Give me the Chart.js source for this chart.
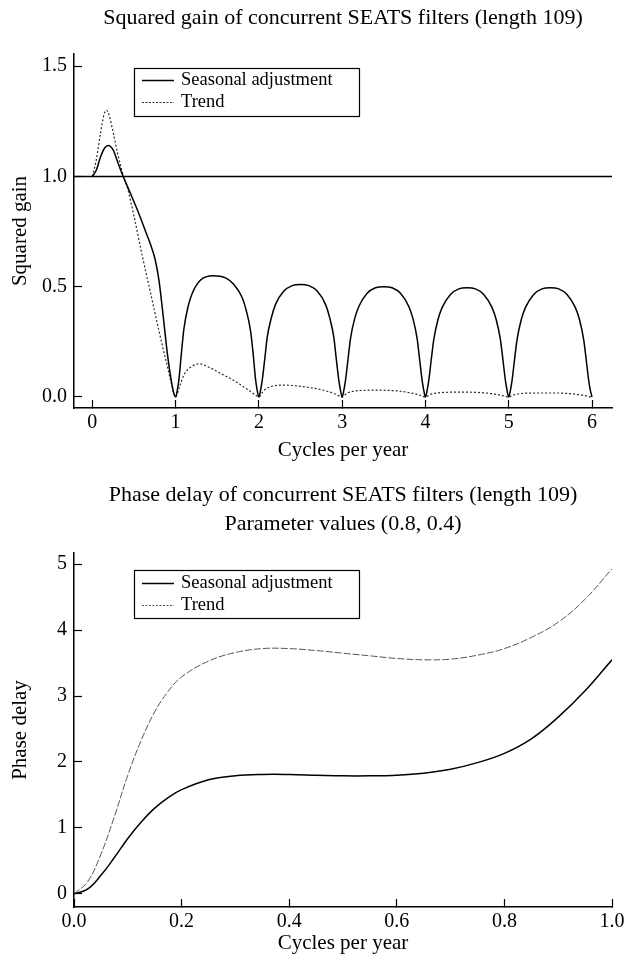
<!DOCTYPE html>
<html><head><meta charset="utf-8">
<script src="https://cdn.jsdelivr.net/npm/chart.js@4.4.1/dist/chart.umd.min.js"></script>
<style>
html,body{margin:0;padding:0;background:#fff;}
#w{position:relative;width:624px;height:963px;overflow:hidden;}
canvas{position:absolute;left:0;display:block;}
</style>
</head><body>
<div id="w">
<canvas id="c1" width="624" height="470" style="top:0"></canvas>
<canvas id="c2" width="624" height="493" style="top:470px"></canvas>
</div>
<script>
// ---------- Data: squared gain ----------
const gainTitle = 'Squared gain of concurrent SEATS filters (length 109)';
const gainSeriesNames = ['Seasonal adjustment', 'Trend'];
const gainXTicks = [0, 1, 2, 3, 4, 5, 6];
const gainYTicks = [0, 0.5, 1.0, 1.5];
const gainXRange = [-0.22, 6.24];
const gainYRange = [-0.05, 1.555];
const gainRefLevel = 1.0;

const gainSaX = [0,0.05,0.1,0.15,0.19,0.25,0.3,0.37,0.45,0.55,0.65,0.7,0.75,0.8,0.85,0.9,0.95,0.98,1,
  1.02,1.04,1.07,1.1,1.15,1.2,1.3,1.45,1.6,1.7,1.8,1.85,1.9,1.93,1.96,1.98,2,
  2.02,2.04,2.07,2.1,2.15,2.2,2.3,2.4,2.5,2.6,2.7,2.8,2.85,2.9,2.93,2.96,2.98,3,
  3.02,3.04,3.07,3.1,3.15,3.2,3.3,3.4,3.5,3.6,3.7,3.8,3.85,3.9,3.93,3.96,3.98,4,
  4.02,4.04,4.07,4.1,4.15,4.2,4.3,4.4,4.5,4.6,4.7,4.8,4.85,4.9,4.93,4.96,4.98,5,
  5.02,5.04,5.07,5.1,5.15,5.2,5.3,5.4,5.5,5.6,5.7,5.8,5.85,5.9,5.93,5.96,5.98,6];
const gainSaY = [1,1.03,1.09,1.13,1.14,1.12,1.07,1.0,0.93,0.84,0.74,0.69,0.63,0.53,0.37,0.2,0.07,0.015,0,
  0.03,0.08,0.2,0.31,0.41,0.47,0.53,0.55,0.54,0.51,0.45,0.39,0.3,0.2,0.08,0.03,0,
  0.03,0.075,0.17,0.27,0.36,0.42,0.48,0.505,0.51,0.505,0.48,0.42,0.36,0.27,0.17,0.075,0.03,0,
  0.03,0.075,0.17,0.265,0.355,0.41,0.47,0.495,0.50,0.495,0.47,0.41,0.355,0.265,0.17,0.075,0.03,0,
  0.03,0.075,0.17,0.26,0.35,0.405,0.465,0.49,0.495,0.49,0.465,0.405,0.35,0.26,0.17,0.075,0.03,0,
  0.03,0.075,0.17,0.26,0.35,0.405,0.465,0.49,0.495,0.49,0.465,0.405,0.35,0.26,0.17,0.075,0.03,0];

const gainTrX = [0,0.05,0.1,0.14,0.17,0.2,0.25,0.3,0.36,0.42,0.5,0.6,0.7,0.8,0.9,0.95,1,
  1.05,1.1,1.2,1.29,1.4,1.5,1.6,1.7,1.8,1.9,1.96,2,
  2.05,2.1,2.2,2.3,2.4,2.5,2.6,2.7,2.8,2.9,2.96,3,
  3.05,3.1,3.2,3.4,3.6,3.7,3.8,3.9,3.96,4,
  4.05,4.1,4.2,4.4,4.6,4.7,4.8,4.9,4.96,5,
  5.05,5.1,5.2,5.4,5.6,5.7,5.8,5.9,5.96,6];
const gainTrY = [1,1.08,1.2,1.28,1.30,1.28,1.2,1.11,1.02,0.95,0.82,0.64,0.47,0.3,0.14,0.06,0,
  0.05,0.1,0.14,0.15,0.135,0.115,0.095,0.075,0.05,0.025,0.008,0,
  0.025,0.04,0.052,0.054,0.052,0.048,0.043,0.037,0.028,0.016,0.005,0,
  0.015,0.023,0.029,0.031,0.029,0.026,0.02,0.012,0.004,0,
  0.01,0.016,0.02,0.022,0.021,0.019,0.015,0.008,0.003,0,
  0.008,0.013,0.017,0.018,0.018,0.016,0.013,0.007,0.002,0];

// ---------- Data: phase delay ----------
const phaseTitle = ['Phase delay of concurrent SEATS filters (length 109)', 'Parameter values (0.8, 0.4)'];
const phaseXTicks = [0, 0.2, 0.4, 0.6, 0.8, 1.0];
const phaseYTicks = [0, 1, 2, 3, 4, 5];
const phaseXRange = [0, 1.0];
const phaseYRange = [-0.2, 5.17];
const phaseX = [0,0.025,0.05,0.075,0.1,0.125,0.15,0.175,0.2,0.25,0.3,0.35,0.4,0.45,0.5,0.55,0.6,0.65,0.7,0.75,0.8,0.85,0.9,0.95,1.0];
const phaseSa = [0,0.07,0.28,0.55,0.84,1.09,1.3,1.46,1.58,1.73,1.79,1.81,1.81,1.8,1.79,1.79,1.8,1.83,1.89,1.99,2.13,2.35,2.68,3.08,3.55];
const phaseTr = [0,0.18,0.6,1.17,1.8,2.33,2.76,3.07,3.29,3.53,3.66,3.72,3.72,3.69,3.65,3.61,3.57,3.55,3.56,3.62,3.72,3.89,4.12,4.47,4.93];

// ---------- Chart setup ----------
const FONT = "'Liberation Serif','Times New Roman',Times,serif";
Chart.defaults.font.family = FONT;
Chart.defaults.color = '#000';

const zip = (xs, ys) => xs.map((x, i) => ({x: x, y: ys[i]}));

const legendBoxPlugin = {
  id: 'legendBox',
  afterDatasetsDraw(chart, args, o) {
    if (!o || !o.items) return;
    const {ctx, chartArea} = chart;
    const x0 = Math.round(chartArea.left + o.dx), y0 = Math.round(chartArea.top + o.dy);
    ctx.save();
    ctx.fillStyle = '#fff';
    ctx.fillRect(x0, y0, o.w, o.h);
    ctx.strokeStyle = '#000'; ctx.lineWidth = 1.2;
    ctx.strokeRect(x0 + 0.5, y0 + 0.5, o.w, o.h);
    ctx.font = o.fontSize + 'px ' + FONT;
    ctx.textBaseline = 'middle';
    ctx.textAlign = 'left';
    o.items.forEach((idx, i) => {
      const ds = chart.data.datasets[idx];
      const y = y0 + o.rows[i];
      ctx.beginPath();
      ctx.setLineDash(o.dashes[i]);
      ctx.lineWidth = ds.borderWidth;
      ctx.strokeStyle = ds.borderColor;
      ctx.moveTo(x0 + 8, y + 0.5); ctx.lineTo(x0 + 40, y + 0.5); ctx.stroke();
      ctx.setLineDash([]);
      ctx.fillStyle = '#000';
      ctx.fillText(ds.label, x0 + 47, y);
    });
    ctx.restore();
  }
};

function axis(range, ticks, fmt, title, isX, size) {
  return {
    type: 'linear', min: range[0], max: range[1],
    afterFit(s) {
      if (isX) { s.height = size; s.paddingLeft = 0; s.paddingRight = 0; }
      else { s.width = size; s.paddingTop = 0; s.paddingBottom = 0; }
    },
    afterBuildTicks(s) { s.ticks = ticks.map(v => ({value: v})); },
    ticks: { padding: isX ? 11 : 15, font: {size: 20}, color: '#000', autoSkip: false, maxRotation: 0,
             callback: v => fmt(v) },
    grid: { drawOnChartArea: false, drawTicks: true, tickLength: -8, tickColor: '#000', tickWidth: 1.2 },
    border: { display: true, color: '#000', width: 1.5 },
    title: { display: true, text: title, color: '#000', font: {size: 21},
             padding: isX ? {top: 0, bottom: 7} : {top: 7.4, bottom: 0} }
  };
}

new Chart(document.getElementById('c1'), {
  type: 'line',
  data: { datasets: [
    { label: gainSeriesNames[0], data: zip(gainSaX, gainSaY), borderColor: '#000', borderWidth: 1.5,
      pointRadius: 0, fill: false, cubicInterpolationMode: 'monotone' },
    { label: gainSeriesNames[1], data: zip(gainTrX, gainTrY), borderColor: '#2a2a2a', borderWidth: 1.2,
      borderDash: [2, 2], pointRadius: 0, fill: false, cubicInterpolationMode: 'monotone' },
    { label: 'ref', data: zip(gainXRange, [gainRefLevel, gainRefLevel]), borderColor: '#000', borderWidth: 1.5,
      pointRadius: 0, fill: false }
  ]},
  options: {
    responsive: false, animation: false, events: [],
    layout: { padding: {left: 0, right: 12, top: 0, bottom: 0} },
    scales: {
      x: axis(gainXRange, gainXTicks, v => String(v), 'Cycles per year', true, 62),
      y: axis(gainYRange, gainYTicks, v => v.toFixed(1), 'Squared gain', false, 74)
    },
    plugins: {
      legend: {display: false}, tooltip: {enabled: false},
      title: { display: true, text: gainTitle, fullSize: false, color: '#000',
               font: {size: 22, weight: 'normal', lineHeight: 1.3}, padding: {top: 3.7, bottom: 21.7} },
      legendBox: { dx: 60, dy: 14, w: 225, h: 48, rows: [12, 34], fontSize: 18.5, items: [0, 1],
                   dashes: [[], [2, 1.5]] }
    }
  },
  plugins: [legendBoxPlugin]
});

new Chart(document.getElementById('c2'), {
  type: 'line',
  data: { datasets: [
    { label: gainSeriesNames[0], data: zip(phaseX, phaseSa), borderColor: '#000', borderWidth: 1.5,
      pointRadius: 0, fill: false, tension: 0.4 },
    { label: gainSeriesNames[1], data: zip(phaseX, phaseTr), borderColor: '#555', borderWidth: 1,
      borderDash: [7, 2], pointRadius: 0, fill: false, tension: 0.4 }
  ]},
  options: {
    responsive: false, animation: false, events: [],
    layout: { padding: {left: 0, right: 12, top: 0, bottom: 0} },
    scales: {
      x: axis(phaseXRange, phaseXTicks, v => v.toFixed(1), 'Cycles per year', true, 56),
      y: axis(phaseYRange, phaseYTicks, v => String(v), 'Phase delay', false, 74)
    },
    plugins: {
      legend: {display: false}, tooltip: {enabled: false},
      title: { display: true, text: phaseTitle, fullSize: false, color: '#000',
               font: {size: 22, weight: 'normal', lineHeight: 1.3}, padding: {top: 11.2, bottom: 14.6} },
      legendBox: { dx: 60, dy: 17, w: 225, h: 48, rows: [13, 35], fontSize: 18.5, items: [0, 1],
                   dashes: [[], [2, 1.5]] }
    }
  },
  plugins: [legendBoxPlugin]
});
</script>
</body></html>
